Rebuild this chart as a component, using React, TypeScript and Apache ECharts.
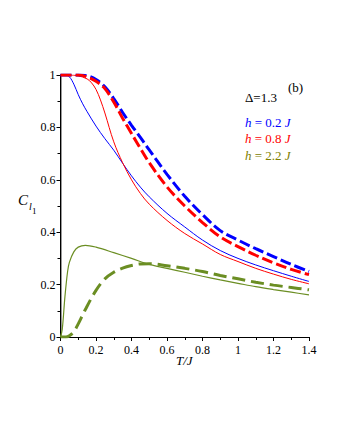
import React, { useEffect, useRef } from "react";
import * as echarts from "echarts";

const xTicks = ["0", "0.2", "0.4", "0.6", "0.8", "1", "1.2", "1.4"];
const yTicks = ["0", "0.2", "0.4", "0.6", "0.8", "1"];

const tBlueSolid = [0, 0.025, 0.05, 0.075, 0.1, 0.125, 0.15, 0.2, 0.25, 0.3, 0.35, 0.4, 0.45, 0.5, 0.6, 0.7, 0.8, 0.9, 1.0, 1.1, 1.2, 1.3, 1.4];
const cBlueSolid = [1, 1, 0.993, 0.965, 0.925, 0.89, 0.86, 0.805, 0.757, 0.713, 0.663, 0.615, 0.572, 0.535, 0.472, 0.42, 0.37, 0.33, 0.3, 0.275, 0.253, 0.232, 0.212];

const tRedSolid = [0, 0.05, 0.1, 0.15, 0.175, 0.2, 0.225, 0.25, 0.3, 0.35, 0.4, 0.45, 0.5, 0.6, 0.7, 0.8, 0.9, 1.0, 1.1, 1.2, 1.3, 1.4];
const cRedSolid = [1, 1, 0.997, 0.985, 0.97, 0.945, 0.905, 0.855, 0.745, 0.665, 0.6, 0.548, 0.507, 0.445, 0.395, 0.355, 0.315, 0.288, 0.262, 0.24, 0.22, 0.203];

const tBlueDash = [0, 0.1, 0.15, 0.2, 0.25, 0.3, 0.35, 0.4, 0.45, 0.5, 0.6, 0.7, 0.8, 0.9, 1.0, 1.1, 1.2, 1.3, 1.4];
const cBlueDash = [1, 1, 0.997, 0.983, 0.955, 0.91, 0.857, 0.808, 0.762, 0.714, 0.621, 0.537, 0.467, 0.406, 0.37, 0.337, 0.307, 0.277, 0.25];

const tRedDash = [0, 0.1, 0.15, 0.2, 0.25, 0.3, 0.35, 0.4, 0.45, 0.5, 0.6, 0.7, 0.8, 0.9, 1.0, 1.1, 1.2, 1.3, 1.4];
const cRedDash = [1, 1, 0.993, 0.976, 0.948, 0.897, 0.835, 0.777, 0.72, 0.665, 0.573, 0.5, 0.437, 0.382, 0.345, 0.312, 0.283, 0.258, 0.238];

const tGreenSolid = [0, 0.01, 0.025, 0.04, 0.05, 0.075, 0.1, 0.14, 0.2, 0.3, 0.4, 0.5, 0.6, 0.7, 0.8, 0.9, 1.0, 1.1, 1.2, 1.3, 1.4];
const cGreenSolid = [0, 0.03, 0.154, 0.25, 0.285, 0.325, 0.343, 0.35, 0.343, 0.322, 0.3, 0.277, 0.262, 0.247, 0.232, 0.218, 0.205, 0.192, 0.181, 0.171, 0.161];

const tGreenDash = [0, 0.03, 0.05, 0.075, 0.1, 0.14, 0.2, 0.25, 0.3, 0.35, 0.4, 0.45, 0.5, 0.6, 0.7, 0.8, 0.9, 1.0, 1.1, 1.2, 1.3, 1.4];
const cGreenDash = [0, 0, 0.005, 0.02, 0.05, 0.105, 0.178, 0.222, 0.247, 0.263, 0.273, 0.279, 0.28, 0.272, 0.262, 0.25, 0.235, 0.222, 0.209, 0.198, 0.189, 0.18];

const zip = (t: number[], c: number[]) => t.map((v, i) => [v, c[i]]);

const SERIF = "Liberation Serif";
const BLUE = "#0000ff";
const RED = "#ff0000";
const GREEN = "#6b8e23";
const OLIVE = "#808000";

export default function App() {
  const ref = useRef<HTMLDivElement>(null);
  useEffect(() => {
    if (!ref.current) return;
    const chart = echarts.init(ref.current, null, { renderer: "svg" });
    const line = (name: string, data: number[][], color: string, width: number, dash?: number[]) => ({
      name,
      type: "line",
      data,
      smooth: 0.35,
      showSymbol: false,
      symbol: "none",
      lineStyle: { color, width, type: dash ? dash : "solid", cap: "butt" },
      z: dash ? 3 : 2,
    });
    const txt = (text: string, color: string, size: number, italic = false) => ({
      text,
      fill: color,
      fontFamily: SERIF,
      fontSize: size,
      fontStyle: italic ? "italic" : "normal",
    });
    const hText = (val: string, color: string) => ({
      text: `{i|h}{n| = ${val} }{i|J}`,
      fill: color,
      fontFamily: SERIF,
      fontSize: 13,
      rich: {
        i: { fontStyle: "italic", fontFamily: SERIF, fontSize: 13, fill: color },
        n: { fontFamily: SERIF, fontSize: 13, fill: color },
      },
    });
    chart.setOption({
      animation: false,
      backgroundColor: "#ffffff",
      grid: { left: 60.5, right: 31, top: 75, bottom: 103, containLabel: false },
      xAxis: [
        {
          type: "value",
          min: 0,
          max: 1.4,
          interval: 0.2,
          axisLine: { show: true, onZero: false, lineStyle: { color: "#000", width: 1 } },
          axisTick: { show: true, length: 4, lineStyle: { color: "#000" } },
          minorTick: { show: true, splitNumber: 2, length: 3, lineStyle: { color: "#000" } },
          splitLine: { show: false },
          axisLabel: {
            color: "#000",
            fontFamily: SERIF,
            fontSize: 12,
            margin: 7,
            formatter: (v: number) => xTicks[Math.round(v / 0.2)] ?? "",
          },
        },
        {
          type: "value",
          position: "top",
          min: 0,
          max: 1.4,
          axisLine: { show: true, lineStyle: { color: "#000", width: 1 } },
          axisTick: { show: false },
          axisLabel: { show: false },
          splitLine: { show: false },
        },
      ],
      yAxis: [
        {
          type: "value",
          min: 0,
          max: 1,
          interval: 0.2,
          axisLine: { show: true, onZero: false, lineStyle: { color: "#777", width: 1.5 } },
          axisTick: { show: true, length: 4, lineStyle: { color: "#000" } },
          minorTick: { show: true, splitNumber: 2, length: 3, lineStyle: { color: "#000" } },
          splitLine: { show: false },
          axisLabel: {
            color: "#000",
            fontFamily: SERIF,
            fontSize: 12,
            margin: 5,
            formatter: (v: number) => yTicks[Math.round(v / 0.2)] ?? "",
          },
        },
        {
          type: "value",
          position: "right",
          min: 0,
          max: 1,
          axisLine: { show: true, lineStyle: { color: "#000", width: 1 } },
          axisTick: { show: false },
          axisLabel: { show: false },
          splitLine: { show: false },
        },
      ],
      series: [
        line("h=0.2J solid", zip(tBlueSolid, cBlueSolid), BLUE, 1),
        line("h=0.8J solid", zip(tRedSolid, cRedSolid), RED, 1),
        line("h=2.2J solid", zip(tGreenSolid, cGreenSolid), GREEN, 1.2),
        line("h=0.2J dashed", zip(tBlueDash, cBlueDash), BLUE, 3, [11, 4]),
        line("h=0.8J dashed", zip(tRedDash, cRedDash), RED, 3, [11, 4]),
        line("h=2.2J dashed", zip(tGreenDash, cGreenDash), GREEN, 3, [13, 6]),
      ],
      graphic: [
        { type: "text", left: 288, top: 81, style: txt("(b)", "#000", 13) },
        { type: "text", left: 245, top: 91, style: txt("Δ=1.3", "#000", 13) },
        { type: "text", left: 245, top: 116, style: hText("0.2", BLUE) },
        { type: "text", left: 245, top: 132, style: hText("0.8", RED) },
        { type: "text", left: 245, top: 149, style: hText("2.2", OLIVE) },
        { type: "text", left: 18, top: 192, style: txt("C", "#000", 15, true) },
        { type: "text", left: 29, top: 201, style: txt("l", "#000", 10, true) },
        { type: "text", left: 32, top: 206, style: txt("1", "#000", 9) },
        { type: "text", left: 176, top: 354, style: txt("T/J", "#000", 13, true) },
      ],
    });
    return () => chart.dispose();
  }, []);
  return (
    <div
      ref={ref}
      style={{ position: "absolute", left: 0, top: 0, width: 340, height: 440, background: "#fff" }}
    />
  );
}
